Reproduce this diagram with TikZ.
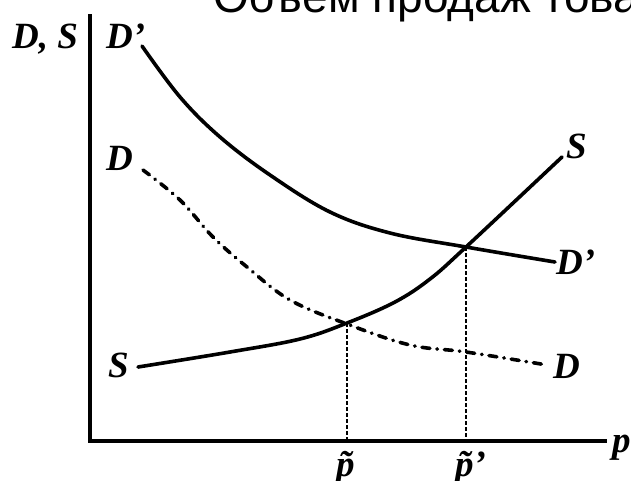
\documentclass[tikz,border=0pt]{standalone}
\usepackage{fontspec}
\setmainfont{Liberation Serif}
\newfontfamily\sansru{Liberation Sans}
\tikzset{
  lbl/.style={inner sep=0pt, anchor=base west, font=\fontsize{37}{37}\selectfont\bfseries\itshape},
  curve/.style={line width=3.6pt, line cap=round, line join=round},
  axisline/.style={line width=3.6pt, line join=miter},
  dashdotline/.style={line width=3.6pt, line cap=round, dash pattern=on 8pt off 7pt on 0.5pt off 7pt},
  guide/.style={line width=2.2pt, dash pattern=on 3.5pt off 2.5pt},
}
\begin{document}
\begin{tikzpicture}[x=1pt, y=-1pt]
\useasboundingbox (0,0) rectangle (631,480);
\clip (0,0) rectangle (631,480);
% title (clipped at top)
\node[inner sep=0pt, anchor=base west, font=\sansru\fontsize{46}{46}\selectfont] (title) at (213,12) {Объем продаж това};
% axes
\coordinate (ytop) at (90,14);
\coordinate (O) at (90,441);
\coordinate (xend) at (607,441);
\draw[axisline] (ytop) -- (O) -- (xend);
% intersections
\coordinate (E1) at (347,323);
\coordinate (E2) at (466,247);
% D' curve
\draw[curve] plot[smooth, tension=0.6] coordinates {(142,46) (180,97) (220,137) (270,175) (330,212) (390,233) (466,247) (555,262)};
% S curve
\draw[curve] plot[smooth, tension=0.6] coordinates {(138,367) (230,352) (300,339) (347,323) (395,302) (430,279) (466,247) (562,157)};
% D curve
\draw[dashdotline] plot[smooth, tension=0.6] coordinates {(143,170) (180,200) (213,237) (247,267) (290,300) (347,324) (410,345) (466,352) (547,365)};
% guides
\draw[guide] (E1) -- (E1 |- O);
\draw[guide] (E2) -- (E2 |- O);
% labels
\node[lbl] (lDS) at (12,48) {D, S};
\node[lbl] (lDp1) at (106,48) {D'};
\node[lbl] (lD1) at (106,170) {D};
\node[lbl] (lS1) at (108,377) {S};
\node[lbl] (lS2) at (566,158) {S};
\node[lbl] (lDp2) at (556,274) {D'};
\node[lbl] (lD2) at (553,378) {D};
\node[lbl] (lp) at (612,452) {p};
\node[lbl] (lpt) at (336,476) {\~{p}};
\node[lbl] (lpt2) at (455,476) {\~{p}'};
\end{tikzpicture}
\end{document}
